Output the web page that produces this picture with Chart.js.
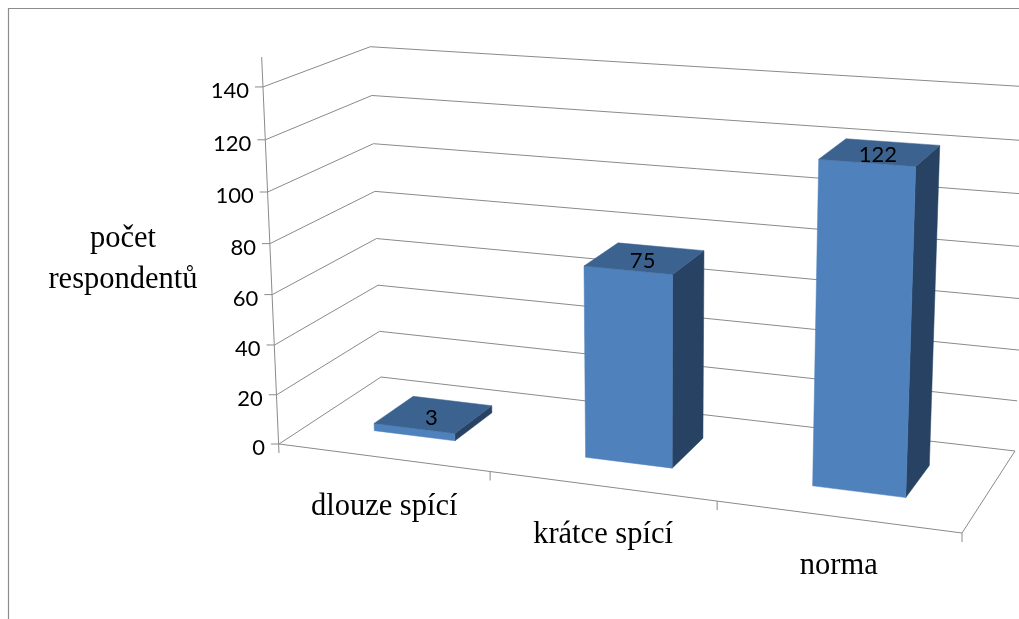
<!DOCTYPE html>
<html>
<head>
<meta charset="utf-8">
<style>
  html, body { margin: 0; padding: 0; background: #fff; overflow: hidden; }
  canvas { display: block; }
</style>
<script src="https://cdn.jsdelivr.net/npm/chart.js@4/dist/chart.umd.min.js"></script>
</head>
<body>
<canvas id="chart" width="1019" height="619"></canvas>
<script>
// Data
const categories = ['dlouze spící', 'krátce spící', 'norma'];
const respondents = [3, 75, 122];
const axisMax = 140;
const axisStep = 20;
const axisTitle = ['počet', 'respondentů'];

// Floor of the 3D box as [x, y] on the page, verticals meet at a far point below it
const floorQuad = [[279, 444], [962, 533], [1015, 451], [381, 377]];
const verticalVanish = [656, 8860];
const heightFactor = -0.0407;
const barFrontDepth = 0.30;
const barBackDepth = 0.70;
const barShift = 0.0022;

const lineColor = '#8a8a8a';
const frontColor = '#4f81bd';
const topColor = '#3c638f';
const sideColor = '#274263';
const serifFont = '"Liberation Serif", serif';
const sansFont = 'Lato, sans-serif';

// Homography of the unit square onto the floor, order: (0,0) (1,0) (1,1) (0,1)
function quadCoefficients(q) {
    const [p0, p1, p2, p3] = q;
    const dx1 = p1[0] - p2[0], dx2 = p3[0] - p2[0], sx = p0[0] - p1[0] + p2[0] - p3[0];
    const dy1 = p1[1] - p2[1], dy2 = p3[1] - p2[1], sy = p0[1] - p1[1] + p2[1] - p3[1];
    const det = dx1 * dy2 - dx2 * dy1;
    const g = (sx * dy2 - dx2 * sy) / det;
    const h = (dx1 * sy - sx * dy1) / det;
    return {
        g, h,
        a: p1[0] - p0[0] + g * p1[0], b: p3[0] - p0[0] + h * p3[0], c: p0[0],
        d: p1[1] - p0[1] + g * p1[1], e: p3[1] - p0[1] + h * p3[1], f: p0[1]
    };
}

const floor = quadCoefficients(floorQuad);

// u along the categories, v up the value axis, w into the depth
function project(u, v, w) {
    const s = heightFactor * v;
    const n = floor.g * u + floor.h * w + 1 + s;
    return [
        (floor.a * u + floor.b * w + floor.c + s * verticalVanish[0]) / n,
        (floor.d * u + floor.e * w + floor.f + s * verticalVanish[1]) / n
    ];
}

function line(ctx, a, b) {
    ctx.beginPath();
    ctx.moveTo(a[0], a[1]);
    ctx.lineTo(b[0], b[1]);
    ctx.stroke();
}

function face(ctx, pts, color) {
    ctx.fillStyle = color;
    ctx.strokeStyle = color;
    ctx.lineWidth = 0.5;
    ctx.beginPath();
    pts.forEach((p, i) => i ? ctx.lineTo(p[0], p[1]) : ctx.moveTo(p[0], p[1]));
    ctx.closePath();
    ctx.fill();
    ctx.stroke();
}

const box3d = {
    id: 'box3d',
    afterDatasetsDraw(chart) {
        const { ctx, chartArea: area, scales } = chart;
        const toU = px => (px - area.left) / area.width;
        const toV = py => (area.bottom - py) / area.height;

        ctx.save();
        ctx.textBaseline = 'middle';

        // Outer frame of the picture
        ctx.strokeStyle = '#8c8c8c';
        ctx.lineWidth = 1.2;
        ctx.beginPath();
        ctx.moveTo(8.5, chart.height);
        ctx.lineTo(8.5, 8.5);
        ctx.lineTo(chart.width, 8.5);
        ctx.stroke();

        // Grid on the left and back walls, value ticks and labels
        ctx.lineWidth = 1;
        ctx.font = '22px ' + sansFont;
        ctx.textAlign = 'right';
        scales.y.ticks.forEach(tick => {
            const v = toV(scales.y.getPixelForValue(tick.value));
            const front = project(0, v, 0);
            ctx.strokeStyle = lineColor;
            line(ctx, [front[0] - 8, front[1]], front);
            line(ctx, front, project(0, v, 1));
            line(ctx, project(0, v, 1), project(1, v, 1));
            ctx.fillStyle = '#000';
            ctx.fillText(tick.label, front[0] - 14, front[1] + 4);
        });

        // Floor and axes
        ctx.strokeStyle = lineColor;
        const floorFront = project(0, 0, 0);
        line(ctx, project(0, 1.08, 0), [floorFront[0], floorFront[1] + 9]);
        line(ctx, floorFront, project(1, 0, 0));
        line(ctx, project(1, 0, 0), project(1, 0, 1));

        // Category ticks on the front edge, labels under them
        ctx.font = '30.5px ' + serifFont;
        ctx.textAlign = 'center';
        categories.forEach((name, i) => {
            const edge = project(toU(scales.x.getPixelForValue(i) + area.width / categories.length / 2), 0, 0);
            line(ctx, edge, [edge[0], edge[1] + 9]);
            const mid = project(toU(scales.x.getPixelForValue(i)), 0, 0);
            ctx.fillStyle = '#000';
            ctx.fillText(name, mid[0] + 1.5, mid[1] + 49);
        });

        // Axis title
        ctx.fillText(axisTitle[0], 123, 239);
        ctx.fillText(axisTitle[1], 123, 280);

        // Bars, taken from the chart's own bar elements
        chart.getDatasetMeta(0).data.forEach((bar, i) => {
            const u0 = toU(bar.x - bar.width / 2) + barShift;
            const u1 = toU(bar.x + bar.width / 2) + barShift;
            const v = toV(bar.y);
            const z0 = barFrontDepth, z1 = barBackDepth;
            face(ctx, [project(u1, 0, z0), project(u1, 0, z1), project(u1, v, z1), project(u1, v, z0)], sideColor);
            face(ctx, [project(u0, 0, z0), project(u1, 0, z0), project(u1, v, z0), project(u0, v, z0)], frontColor);
            face(ctx, [project(u0, v, z0), project(u1, v, z0), project(u1, v, z1), project(u0, v, z1)], topColor);

            const c = project((u0 + u1) / 2, v, (z0 + z1) / 2);
            ctx.fillStyle = '#000';
            ctx.font = '22px ' + sansFont;
            ctx.textAlign = 'center';
            ctx.fillText(String(respondents[i]), c[0] - 2, c[1] + 3);
        });
        ctx.restore();
    }
};

new Chart(document.getElementById('chart').getContext('2d'), {
    type: 'bar',
    data: {
        labels: categories,
        datasets: [{
            data: respondents,
            backgroundColor: 'transparent',
            categoryPercentage: 1,
            barPercentage: 0.39
        }]
    },
    options: {
        responsive: false,
        animation: false,
        plugins: { legend: { display: false }, tooltip: { enabled: false } },
        scales: {
            x: { display: false },
            y: { display: false, min: 0, max: axisMax, ticks: { stepSize: axisStep } }
        }
    },
    plugins: [box3d]
});
</script>
</body>
</html>
